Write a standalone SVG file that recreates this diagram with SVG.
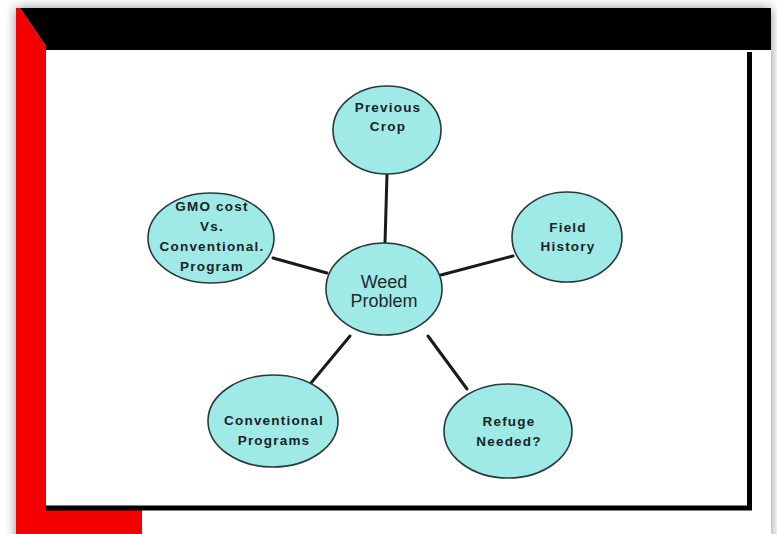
<svg xmlns="http://www.w3.org/2000/svg" width="777" height="534" viewBox="0 0 777 534">
<defs>
<filter id="sh" x="-10%" y="-10%" width="120%" height="120%">
<feGaussianBlur stdDeviation="6"/>
</filter>
<style>
.node{fill:#9fe9e6;stroke:#2a3a3a;stroke-width:1.6}
.lbl{font-family:"Liberation Sans",Arial,sans-serif;font-size:13.5px;font-weight:bold;fill:#1a2424;text-anchor:middle;letter-spacing:1.2px}
.big{font-family:"Liberation Sans",Arial,sans-serif;font-size:18px;fill:#1e2a2a;text-anchor:middle}
.con{stroke:#1a1a1a;stroke-width:3;fill:none;stroke-linecap:round}
</style>
</defs>
<rect width="777" height="534" fill="#ffffff"/>
<rect x="16" y="8" width="755" height="540" fill="#000" opacity="0.45" filter="url(#sh)"/>
<rect x="16" y="8" width="755" height="530" fill="#ffffff"/>
<!-- red L band -->
<polygon points="16,8 20,8 46,46 46,510 142,510 142,534 16,534" fill="#f40000"/>
<!-- black top band -->
<polygon points="20,8 771,8 771,50 46,50 46,46" fill="#000"/>
<!-- panel -->
<rect x="46" y="50" width="702" height="457" fill="#fff"/>
<line x1="749.5" y1="52" x2="749.5" y2="510" stroke="#000" stroke-width="5"/>
<line x1="46" y1="508" x2="752" y2="508" stroke="#000" stroke-width="5"/>
<g id="connectors">
<line class="con" x1="387" y1="174" x2="385" y2="243"/>
<line class="con" x1="273" y1="258" x2="327" y2="273"/>
<line class="con" x1="513" y1="256" x2="441" y2="275"/>
<line class="con" x1="350" y1="336" x2="311" y2="383"/>
<line class="con" x1="428" y1="336" x2="467" y2="389"/>
</g>
<g id="previous-crop">
<ellipse class="node" cx="387" cy="130" rx="54" ry="44"/>
<text class="lbl" x="388" y="112">Previous</text>
<text class="lbl" x="388" y="131">Crop</text>
</g>
<g id="field-history">
<ellipse class="node" cx="567" cy="237" rx="55" ry="45"/>
<text class="lbl" x="568" y="232">Field</text>
<text class="lbl" x="568" y="251">History</text>
</g>
<g id="gmo-cost">
<ellipse class="node" cx="211" cy="238" rx="63" ry="45"/>
<text class="lbl" x="212" y="211">GMO cost</text>
<text class="lbl" x="212" y="231">Vs.</text>
<text class="lbl" x="212" y="251">Conventional.</text>
<text class="lbl" x="212" y="271">Program</text>
</g>
<g id="weed-problem">
<ellipse class="node" cx="384" cy="289" rx="58" ry="46"/>
<text class="big" x="384" y="288">Weed</text>
<text class="big" x="384" y="307">Problem</text>
</g>
<g id="conventional-programs">
<ellipse class="node" cx="273" cy="421" rx="65" ry="46"/>
<text class="lbl" x="274" y="425">Conventional</text>
<text class="lbl" x="274" y="445">Programs</text>
</g>
<g id="refuge-needed">
<ellipse class="node" cx="508" cy="431" rx="64" ry="47"/>
<text class="lbl" x="509" y="426">Refuge</text>
<text class="lbl" x="509" y="446">Needed?</text>
</g>
</svg>
